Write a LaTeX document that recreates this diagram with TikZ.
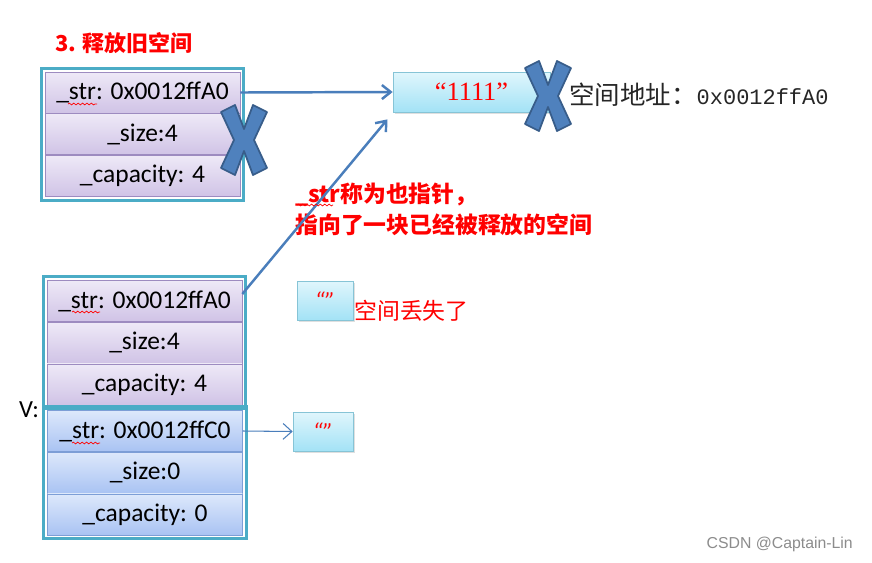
\documentclass[tikz,border=0pt]{standalone}
\usepackage{fontspec}
\setmainfont{Carlito}
\newfontfamily\cjk{Noto Sans CJK SC}
\newfontfamily\monofont{Liberation Mono}
\newfontfamily\seriffont{Liberation Serif}
\usetikzlibrary{positioning,fit,arrows.meta,shadows,decorations.pathmorphing}

\definecolor{frameteal}{HTML}{4BACC6}
\definecolor{purpletop}{HTML}{EEE9F7}
\definecolor{purplebot}{HTML}{D0C3E6}
\definecolor{purpleline}{HTML}{9D8BC0}
\definecolor{bluetop}{HTML}{DDE8FB}
\definecolor{bluebot}{HTML}{A9C3F3}
\definecolor{blueline}{HTML}{7D9ED6}
\definecolor{cyantop}{HTML}{E0F6FC}
\definecolor{cyanbot}{HTML}{A3E2F6}
\definecolor{cyanline}{HTML}{86C4D6}
\definecolor{ptrblue}{HTML}{4A7EBB}
\definecolor{xfill}{HTML}{4F81BD}
\definecolor{xline}{HTML}{385D8A}
\definecolor{notered}{HTML}{FF0000}

\begin{document}
\begin{tikzpicture}[
    x=0.02cm, y=-0.02cm,
    cell/.style={draw=#1, minimum width=3.9cm, minimum height=0.82cm, inner sep=0pt,
        font=\fontsize{14.5}{17}\selectfont},
    oldcell/.style={cell=purpleline, top color=purpletop, bottom color=purplebot},
    newcell/.style={cell=blueline, top color=bluetop, bottom color=bluebot},
    frame/.style={draw=frameteal, line width=1.6pt, inner sep=0.07cm},
    heapbox/.style={draw=cyanline, top color=cyantop, bottom color=cyanbot,
        drop shadow={opacity=0.25, shadow xshift=1pt, shadow yshift=-1pt}},
    note/.style={text=notered, font=\cjk\bfseries\fontsize{13}{14.5}\selectfont, inner sep=0pt},
    squig/.style={draw=notered, line width=0.4pt, decorate,
        decoration={snake, amplitude=0.5pt, segment length=2.5pt}},
    ptr/.style={draw=ptrblue, line width=1.4pt, -{Straight Barb[length=5pt,width=8pt]}},
    bigx/.pic={
        \draw[fill=xfill, draw=xline, line width=1pt, line join=round]
            (-23,-28) -- (-9,-35) -- (0,-11) -- (9,-35) -- (23,-28) -- (10,0)
            -- (23,28) -- (9,35) -- (0,11) -- (-9,35) -- (-23,28) -- (-10,0) -- cycle;
    }
]
\fill[white] (0,0) rectangle (872,562);
\useasboundingbox (0,0) rectangle (872,562);

\node[text=notered, font=\cjk\bfseries\fontsize{12.5}{14}\selectfont, anchor=west] (title)
    at (49,43) {3. 释放旧空间};

% old object (top)
\node[oldcell] (t1) at (142.5,92.5) {\_str: 0x0012ffA0};
\node[oldcell, below=0pt of t1] (t2) {\_size:4};
\node[oldcell, below=0pt of t2] (t3) {\_capacity: 4};
\node[frame, fit=(t1)(t3)] (tframe) {};

% heap block "1111"
\node[heapbox, minimum width=3.14cm, minimum height=0.8cm,
    font=\seriffont\fontsize{15}{17}\selectfont, text=notered] (heap) at (471.5,92) {“1111”};
\node[font=\cjk\fontsize{14.5}{16}\selectfont, text=black!85, anchor=west, inner sep=0pt] (addr)
    at (569,95) {空间地址：{\monofont\fontsize{12.5}{14}\selectfont 0x0012ffA0}};

% v: middle + bottom
\node[oldcell] (m1) at (144.5,301) {\_str: 0x0012ffA0};
\node[oldcell, below=0pt of m1] (m2) {\_size:4};
\node[oldcell, below=0pt of m2] (m3) {\_capacity: 4};
\node[frame, fit=(m1)(m3)] (mframe) {};

\node[newcell] (b1) at (145,431) {\_str: 0x0012ffC0};
\node[newcell, below=0pt of b1] (b2) {\_size:0};
\node[newcell, below=0pt of b2] (b3) {\_capacity: 0};
\node[frame, fit=(b1)(b3)] (bframe) {};

\node[font=\fontsize{14}{16}\selectfont] (vlabel) at (29,410) {V:};

% empty strings
\node[heapbox, minimum width=1.12cm, minimum height=0.78cm, text=notered,
    font=\fontsize{14}{16}\selectfont\itshape] (lost) at (325,300.5) {“”};
\node[heapbox, minimum width=1.2cm, minimum height=0.78cm, text=notered,
    font=\fontsize{14}{16}\selectfont\itshape] (fresh) at (323,431.5) {“”};

\node[note, font=\cjk\fontsize{13}{14.5}\selectfont, anchor=west] (lostnote) at (354,311) {空间丢失了};
\node[note, align=left, anchor=west] (dangle) at (295,209)
    {\_str称为也指针，\\[3pt]指向了一块已经被释放的空间};

% pointers
\draw[ptr] (t1.east) -- (heap.west);
\draw[ptr] ([yshift=4pt]m1.east) -- ([xshift=-3pt,yshift=-4pt]heap.south west);
\draw[draw=ptrblue, line width=0.6pt, -{Straight Barb[length=5pt,width=9pt]}] (b1.east) -- (fresh.west);

% freed marks
\pic at (244,140) {bigx};
\pic at (548,96) {bigx};

% spell-check squiggles
\draw[squig] (68,104) -- (97,104);
\draw[squig] (72,312) -- (100,312);
\draw[squig] (72,443) -- (100,443);
\draw[squig] (297,205) -- (333,205);

\node[font=\fontsize{9}{11}\selectfont\sffamily, text=black!45, anchor=east] (mark)
    at (859,544) {\fontspec{Liberation Sans}CSDN @Captain-Lin};
\end{tikzpicture}
\end{document}
